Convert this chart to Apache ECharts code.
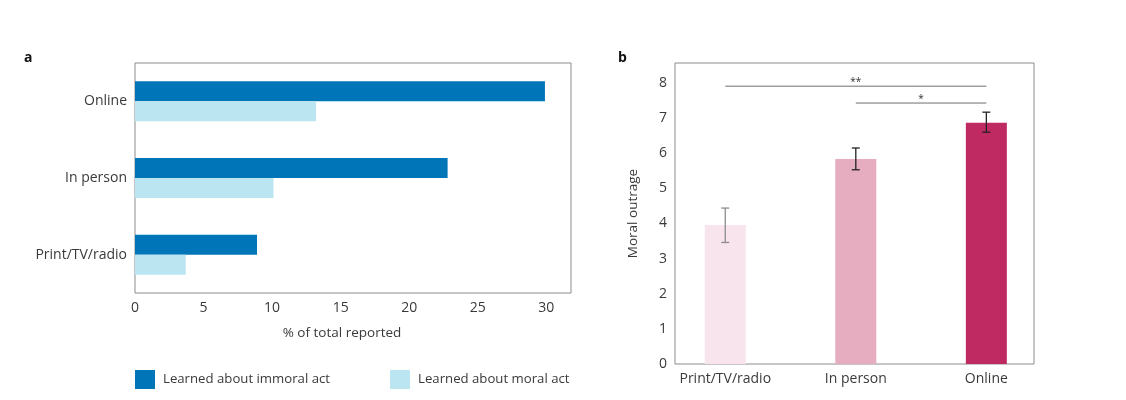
<!DOCTYPE html>
<html>
<head>
<meta charset="utf-8">
<script src="https://cdn.jsdelivr.net/npm/echarts@6/dist/echarts.min.js"></script>
<style>
html,body{margin:0;padding:0;background:#fff;}
#c{width:1126px;height:400px;}
</style>
</head>
<body>
<div id="c"></div>
<script>
// ---- Panel a data ----
const catsA = ['Print/TV/radio', 'In person', 'Online'];
const immoral = [8.9, 22.8, 29.9];
const moral = [3.7, 10.1, 13.2];
const seriesNamesA = ['Learned about immoral act', 'Learned about moral act'];
const ticksA = [0, 5, 10, 15, 20, 25, 30];

// ---- Panel b data ----
const catsB = ['Print/TV/radio', 'In person', 'Online'];
const outrage = [3.96, 5.84, 6.87];
const errLow = [3.46, 5.53, 6.60];
const errHigh = [4.44, 6.15, 7.17];
const sigFrom = [0, 1];
const sigTo = [2, 2];
const sigLevel = [7.91, 7.43];
const sigLabel = ['**', '*'];

// ---- styles ----
const FONT = 'Open Sans';
const TXT = '#3a3a3a';
const FRAME = '#8c8c8c';
const colorsB = ['#f8e4ec', '#e6adc0', '#c02a63'];
const errColors = ['#8c8c8c', '#222222', '#222222'];

const chart = echarts.init(document.getElementById('c'), null, {renderer: 'canvas'});

const option = {
  animation: false,
  textStyle: {fontFamily: FONT},
  graphic: [
    {type: 'text', left: 24, top: 51, style: {text: 'a', font: 'bold 14px ' + FONT, fill: '#111'}},
    {type: 'text', left: 618, top: 51, style: {text: 'b', font: 'bold 14px ' + FONT, fill: '#111'}}
  ],
  legend: {
    left: 130, top: 365,
    itemWidth: 20, itemHeight: 19, itemGap: 60,
    icon: 'rect',
    data: seriesNamesA,
    selectedMode: false,
    textStyle: {fontFamily: FONT, fontSize: 13.2, color: TXT, padding: [0, 0, 0, 3]}
  },
  grid: [
    {left: 135, top: 63, right: 555, bottom: 107, show: true, borderColor: FRAME, borderWidth: 1, backgroundColor: 'transparent'},
    {left: 675, top: 63, right: 92, bottom: 36, show: true, borderColor: FRAME, borderWidth: 1, backgroundColor: 'transparent'}
  ],
  xAxis: [
    {
      gridIndex: 0, type: 'value', min: 0, max: 31.8,
      axisLine: {show: false}, axisTick: {show: false}, splitLine: {show: false},
      axisLabel: {margin: 8, fontFamily: FONT, fontSize: 14, color: TXT,
        customValues: ticksA},
      name: '% of total reported', nameLocation: 'middle', nameGap: 33,
      nameTextStyle: {fontFamily: FONT, fontSize: 13.5, color: TXT, padding: [0, 22, 0, 0]}
    },
    {
      gridIndex: 1, type: 'value', min: -0.385, max: 2.365,
      axisLine: {show: false}, axisTick: {show: false}, splitLine: {show: false},
      axisLabel: {customValues: [0, 1, 2], formatter: v => catsB[Math.round(v)], margin: 8,
        fontFamily: FONT, fontSize: 14, color: TXT}
    }
  ],
  yAxis: [
    {
      gridIndex: 0, type: 'category', data: catsA,
      axisLine: {show: false}, axisTick: {show: false}, splitLine: {show: false},
      axisLabel: {margin: 8, fontFamily: FONT, fontSize: 14, color: TXT}
    },
    {
      gridIndex: 1, type: 'value', min: 0, max: 8.57, interval: 1,
      axisLine: {show: false}, axisTick: {show: false}, splitLine: {show: false},
      axisLabel: {showMaxLabel: false, margin: 8, fontFamily: FONT, fontSize: 14, color: TXT},
      name: 'Moral outrage', nameLocation: 'middle', nameGap: 35, nameRotate: 90,
      nameTextStyle: {fontFamily: FONT, fontSize: 13.5, color: TXT}
    }
  ],
  series: [
    {
      name: seriesNamesA[0], type: 'bar', xAxisIndex: 0, yAxisIndex: 0,
      data: immoral, barWidth: 20, barGap: '0%', itemStyle: {color: '#0076b8'}
    },
    {
      name: seriesNamesA[1], type: 'bar', xAxisIndex: 0, yAxisIndex: 0,
      data: moral, barWidth: 20, barGap: '0%', itemStyle: {color: '#bce5f2'}
    },
    {
      name: 'Moral outrage', type: 'bar', xAxisIndex: 1, yAxisIndex: 1, barWidth: 41,
      data: catsB.map((c, i) => ({value: [i, outrage[i]], itemStyle: {color: colorsB[i]}}))
    },
    {
      name: 'err', type: 'custom', xAxisIndex: 1, yAxisIndex: 1, z: 5,
      data: catsB.map((c, i) => [i, errLow[i], errHigh[i]]),
      renderItem: (params, api) => {
        const i = api.value(0);
        const lo = api.coord([i, api.value(1)]);
        const hi = api.coord([i, api.value(2)]);
        const w = 4;
        const st = {stroke: errColors[params.dataIndex], lineWidth: 1.3};
        return {type: 'group', children: [
          {type: 'line', shape: {x1: lo[0], y1: lo[1], x2: hi[0], y2: hi[1]}, style: st},
          {type: 'line', shape: {x1: lo[0] - w, y1: lo[1], x2: lo[0] + w, y2: lo[1]}, style: st},
          {type: 'line', shape: {x1: hi[0] - w, y1: hi[1], x2: hi[0] + w, y2: hi[1]}, style: st}
        ]};
      }
    },
    {
      name: 'sig', type: 'custom', xAxisIndex: 1, yAxisIndex: 1, z: 5,
      data: sigFrom.map((f, i) => [f, sigTo[i], sigLevel[i]]),
      renderItem: (params, api) => {
        const a = api.coord([api.value(0), api.value(2)]);
        const b = api.coord([api.value(1), api.value(2)]);
        const lbl = sigLabel[params.dataIndex];
        return {type: 'group', children: [
          {type: 'line', shape: {x1: a[0], y1: a[1], x2: b[0], y2: b[1]}, style: {stroke: '#707070', lineWidth: 1}},
          {type: 'text', x: (a[0] + b[0]) / 2, y: a[1] + 1,
           style: {text: lbl, font: '10px ' + FONT, fill: '#333', align: 'center', verticalAlign: 'bottom'}}
        ]};
      }
    }
  ]
};
chart.setOption(option);
</script>
</body>
</html>
